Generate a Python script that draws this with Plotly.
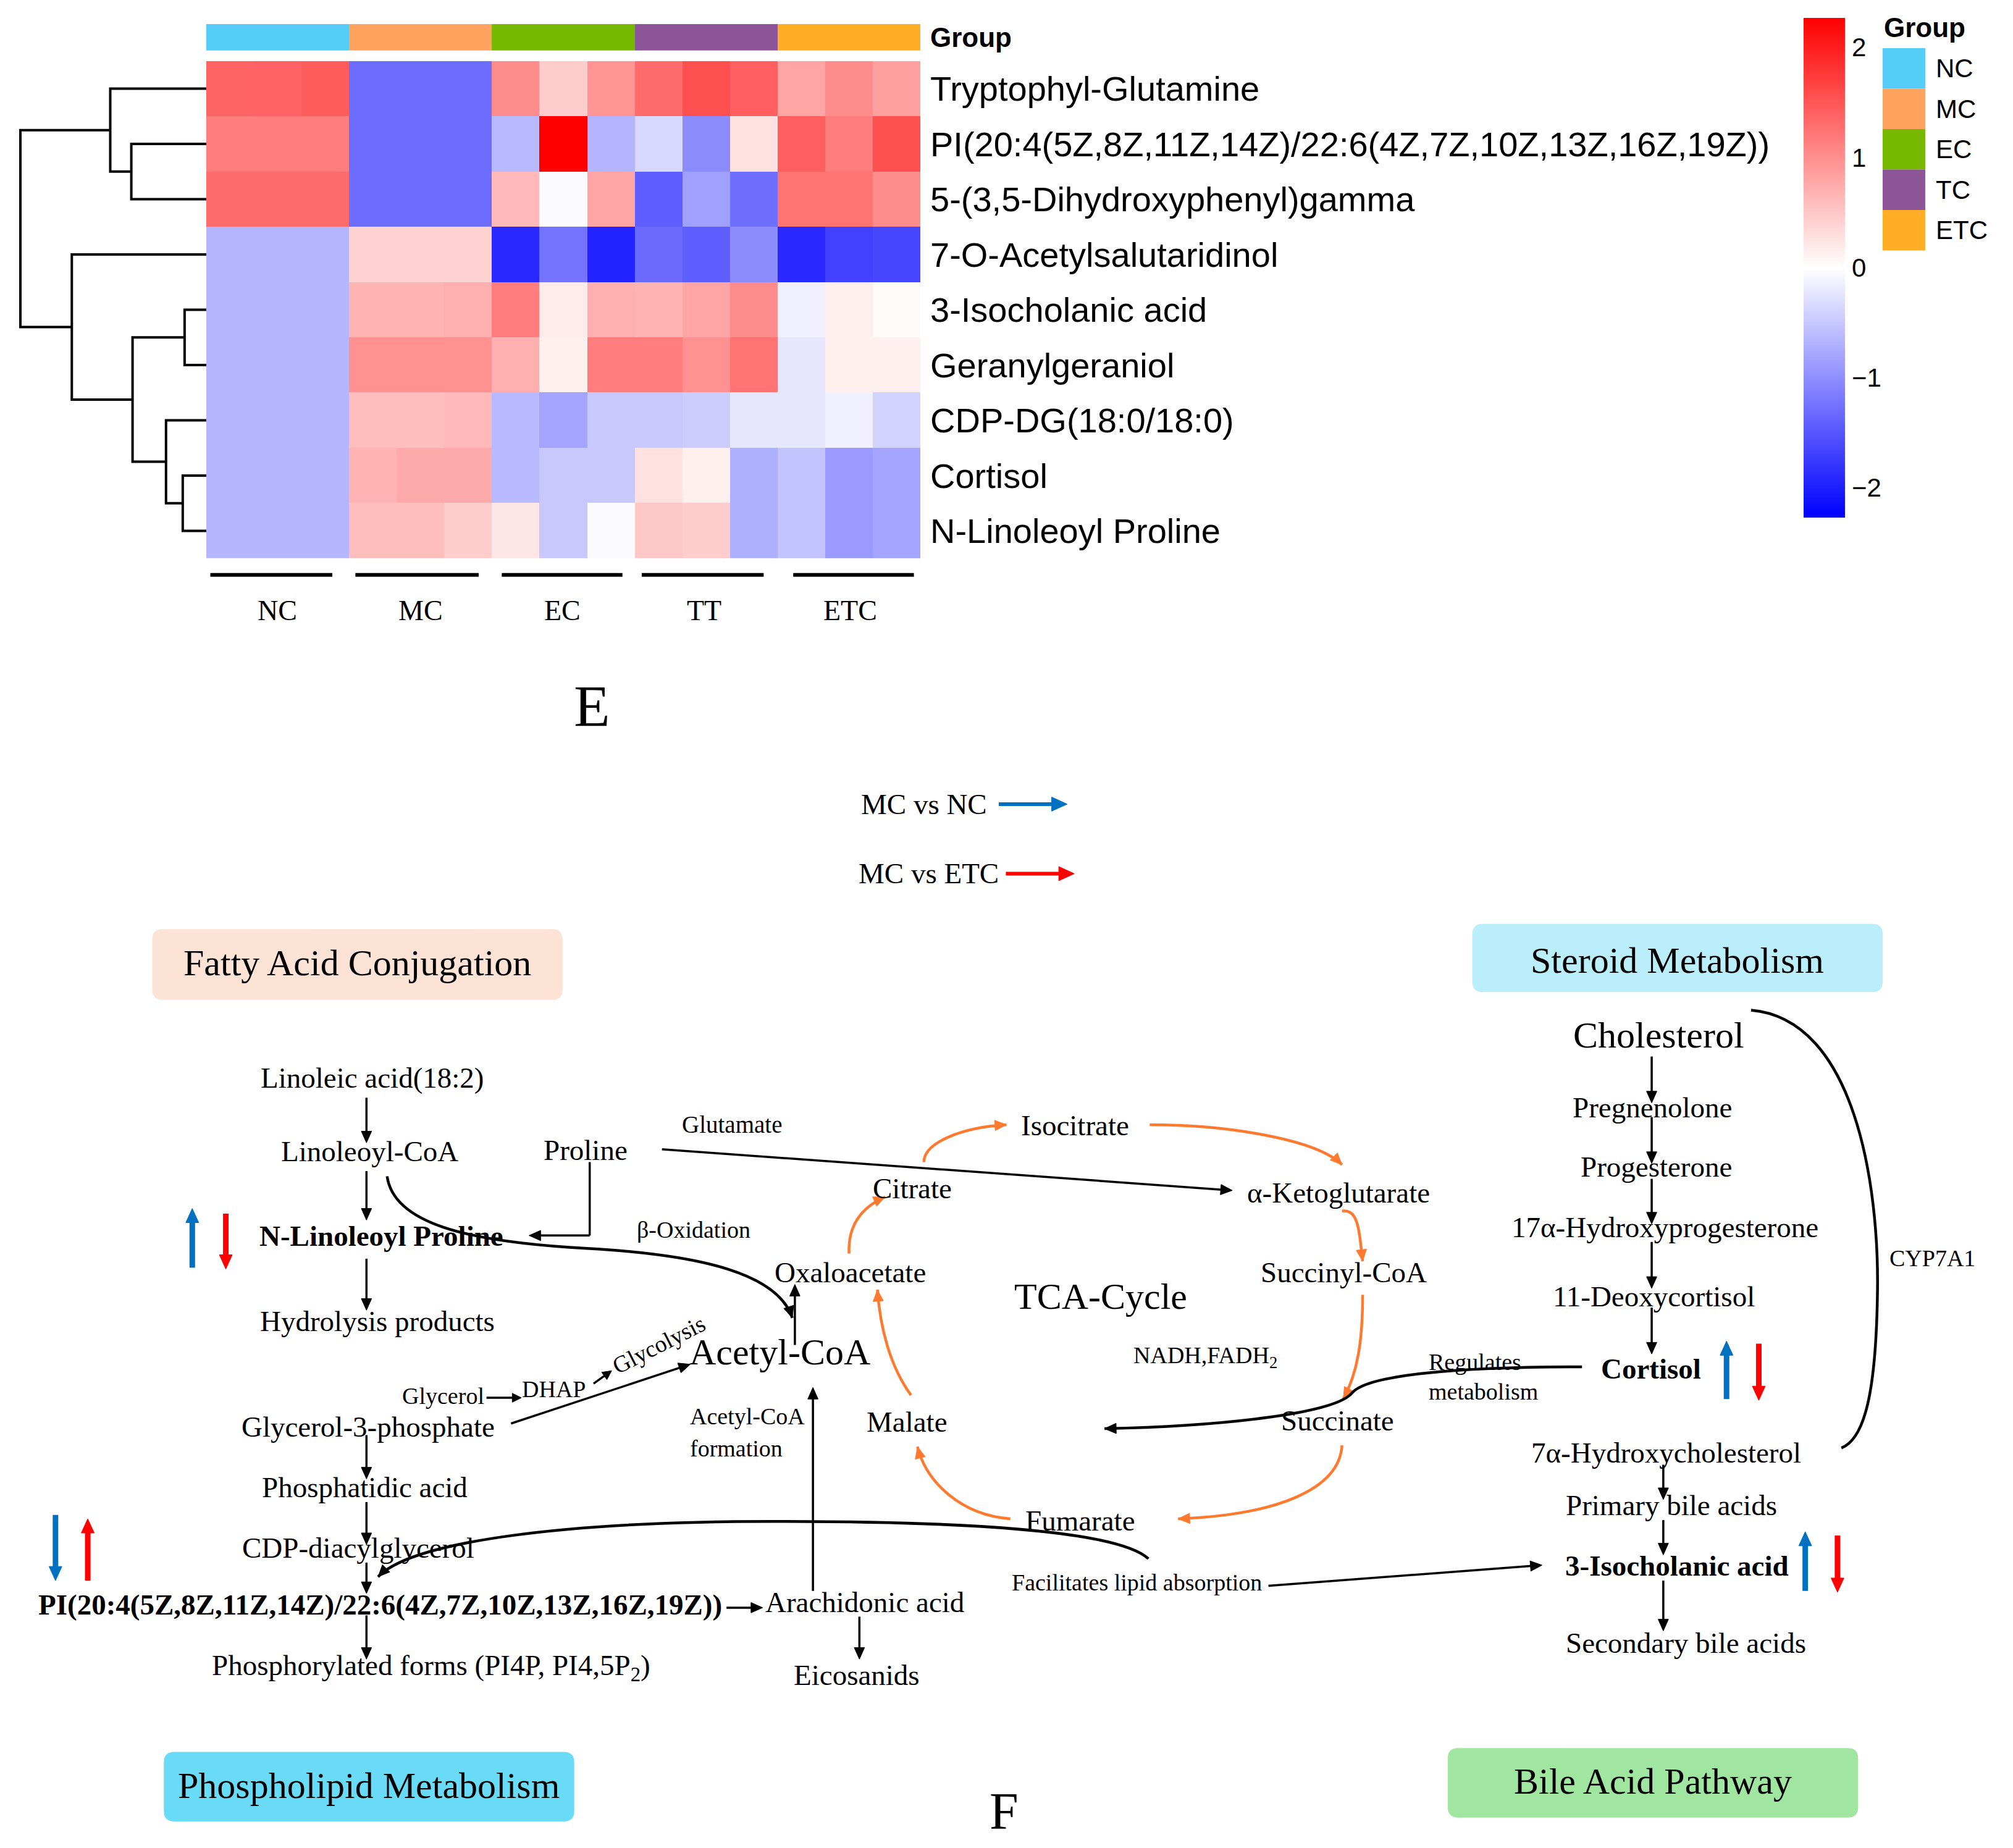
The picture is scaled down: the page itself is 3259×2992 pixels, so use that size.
import plotly.graph_objects as go

# ------------------------------------------------------------------ data
metabolites = [
    "Tryptophyl-Glutamine",
    "PI(20:4(5Z,8Z,11Z,14Z)/22:6(4Z,7Z,10Z,13Z,16Z,19Z))",
    "5-(3,5-Dihydroxyphenyl)gamma",
    "7-O-Acetylsalutaridinol",
    "3-Isocholanic acid",
    "Geranylgeraniol",
    "CDP-DG(18:0/18:0)",
    "Cortisol",
    "N-Linoleoyl Proline",
]
groups = ["NC", "MC", "EC", "TC", "ETC"]
group_colors = ["#56CCF9", "#FFA35F", "#76B900", "#8B5597", "#FFAE25"]
replicates = 3
bottom_labels = ["NC", "MC", "EC", "TT", "ETC"]

# z-scores per metabolite, columns: NC1-3, MC1-3, EC1-3, TC1-3, ETC1-3
tryptophyl_glutamine = [1.38, 1.40, 1.45, -1.31, -1.31, -1.31, 1.02, 0.45, 0.95, 1.33, 1.56, 1.42, 0.80, 1.02, 0.85]
pi_20_4 = [1.16, 1.16, 1.16, -1.31, -1.31, -1.31, -0.62, 2.27, -0.66, -0.36, -1.02, 0.27, 1.42, 1.16, 1.56]
dihydroxyphenyl = [1.33, 1.33, 1.33, -1.31, -1.31, -1.31, 0.62, -0.04, 0.80, -1.42, -0.85, -1.29, 1.25, 1.25, 1.02]
acetylsalutaridinol = [-0.65, -0.65, -0.65, 0.40, 0.40, 0.40, -1.91, -1.25, -1.96, -1.33, -1.42, -1.02, -1.91, -1.69, -1.65]
isocholanic_acid = [-0.65, -0.65, -0.65, 0.67, 0.67, 0.71, 1.16, 0.18, 0.71, 0.67, 0.80, 1.02, -0.13, 0.13, 0.04]
geranylgeraniol = [-0.65, -0.65, -0.65, 0.98, 0.98, 0.98, 0.71, 0.13, 1.16, 1.16, 0.98, 1.25, -0.22, 0.13, 0.13]
cdp_dg = [-0.65, -0.65, -0.65, 0.58, 0.58, 0.62, -0.62, -0.80, -0.49, -0.49, -0.45, -0.22, -0.22, -0.13, -0.40]
cortisol = [-0.65, -0.65, -0.65, 0.67, 0.76, 0.76, -0.62, -0.49, -0.49, 0.27, 0.13, -0.71, -0.53, -0.89, -0.80]
n_linoleoyl_proline = [-0.65, -0.65, -0.65, 0.58, 0.58, 0.45, 0.22, -0.49, -0.04, 0.49, 0.45, -0.71, -0.53, -0.89, -0.80]

z_rows = [tryptophyl_glutamine, pi_20_4, dihydroxyphenyl, acetylsalutaridinol,
          isocholanic_acid, geranylgeraniol, cdp_dg, cortisol, n_linoleoyl_proline]

# row dendrogram: (child a, child b, height); leaves 0..8, merged clusters 9..
linkage = [
    (1, 2, 12.1),
    (0, 9, 15.5),
    (4, 5, 3.5),
    (7, 8, 3.8),
    (6, 12, 6.5),
    (11, 13, 11.9),
    (3, 14, 21.7),
    (10, 15, 30.0),
]
color_range = 2.27
colorbar_ticks = [-2, -1, 0, 1, 2]

# ------------------------------------------------------------------ geometry
W, H = 3259, 2992
S = W / 1560.0          # diagram units -> pixels
DH = H / S

SERIF = "Liberation Serif, Times New Roman, serif"
SANS = "Arial, Liberation Sans, sans-serif"
BLUE = "#0070C0"
RED = "#FF0000"
ORANGE = "#FF7A2F"


def fx(px):
    return px / W


def fy(py):
    return 1 - py / H


fig = go.Figure()

n_cols = len(groups) * replicates
sample_idx = list(range(n_cols))
sample_group = [i // replicates for i in sample_idx]

# main heatmap
fig.add_trace(go.Heatmap(
    z=z_rows, x=sample_idx, y=list(range(len(metabolites))),
    colorscale=[[0, "#0000FF"], [0.5, "#FFFFFF"], [1, "#FF0000"]],
    zmin=-color_range, zmax=color_range,
    xaxis="x", yaxis="y",
    colorbar=dict(
        x=fx(2920), xanchor="left", y=fy(431), yanchor="middle",
        thickness=67, len=809, lenmode="pixels", thicknessmode="pixels",
        outlinewidth=0, xpad=0, ypad=0,
        tickvals=colorbar_ticks, ticks="outside", ticklen=3,
        tickcolor="rgba(0,0,0,0)",
        tickfont=dict(family=SANS, size=42, color="black"),
    ),
    hoverinfo="skip",
))

# group annotation bar
n_g = len(groups)
gscale = []
for i, c in enumerate(group_colors):
    gscale += [[i / n_g, c], [(i + 1) / n_g, c]]
fig.add_trace(go.Heatmap(
    z=[sample_group], x=sample_idx, y=[0],
    colorscale=gscale, zmin=-0.5, zmax=n_g - 0.5, showscale=False,
    xaxis="x2", yaxis="y2", hoverinfo="skip",
))

# dendrogram
pos = {i: float(i) for i in range(len(metabolites))}
hgt = {i: 0.0 for i in range(len(metabolites))}
dx, dy = [], []
for k, (a, b, h) in enumerate(linkage):
    cid = len(metabolites) + k
    dx += [hgt[a], h, h, hgt[b], None]
    dy += [pos[a], pos[a], pos[b], pos[b], None]
    pos[cid] = (pos[a] + pos[b]) / 2
    hgt[cid] = h
fig.add_trace(go.Scatter(x=dx, y=dy, mode="lines", line=dict(color="black", width=4),
                         xaxis="x3", yaxis="y", hoverinfo="skip", showlegend=False))

max_h = max(h for _, _, h in linkage)

fig.update_layout(
    width=W, height=H, margin=dict(l=0, r=0, t=0, b=0),
    paper_bgcolor="white", plot_bgcolor="rgba(0,0,0,0)", showlegend=False,
    xaxis=dict(domain=[fx(334), fx(1490)], range=[-0.5, n_cols - 0.5], visible=False,
               anchor="y", fixedrange=True),
    yaxis=dict(domain=[fy(903), fy(96)], range=[len(metabolites) - 0.5, -0.5],
               tickvals=list(range(len(metabolites))), ticktext=metabolites,
               side="right", ticks="", showgrid=False, zeroline=False, showline=False,
               ticklabelstandoff=15, anchor="x",
               tickfont=dict(family=SANS, size=56, color="black")),
    xaxis2=dict(domain=[fx(334), fx(1490)], range=[-0.5, n_cols - 0.5], visible=False,
                anchor="y2"),
    yaxis2=dict(domain=[fy(79), fy(36)], range=[-0.5, 0.5], tickvals=[0],
                ticktext=["<b>Group</b>"], side="right", ticks="", showgrid=False,
                zeroline=False, ticklabelstandoff=15, anchor="x2",
                tickfont=dict(family=SANS, size=44, color="black")),
    xaxis3=dict(domain=[fx(29), fx(334)], range=[max_h * 1.0133, 0], visible=False,
                anchor="y"),
    xaxis4=dict(domain=[0, 1], range=[0, 1560], visible=False, anchor="y4"),
    yaxis4=dict(domain=[0, 1], range=[DH, 0], visible=False, anchor="x4"),
)

shapes = []
annotations = []


def text(x, y, s, size, bold=False, anchor="center", family=SERIF, angle=0,
         color="black", adj=True):
    if adj:
        x = x - 0.004 * (x - 160)
        y = y - 2.5
    annotations.append(dict(
        x=x, y=y, xref="x4", yref="y4", text=("<b>%s</b>" % s) if bold else s,
        showarrow=False, xanchor=anchor, yanchor="middle", textangle=angle,
        font=dict(family=family, size=size, color=color)))


def seg(x0, y0, x1, y1, color="black", width=3.5):
    shapes.append(dict(type="line", xref="x4", yref="y4", x0=x0, y0=y0, x1=x1, y1=y1,
                       line=dict(color=color, width=width), layer="above"))


def head(tx, ty, ddx, ddy, L, Wd, color):
    n = (ddx * ddx + ddy * ddy) ** 0.5
    ux, uy = ddx / n, ddy / n
    bx, by = tx - ux * L, ty - uy * L
    px_, py_ = -uy, ux
    p1 = (bx + px_ * Wd / 2, by + py_ * Wd / 2)
    p2 = (bx - px_ * Wd / 2, by - py_ * Wd / 2)
    shapes.append(dict(type="path", xref="x4", yref="y4",
                       path=f"M {tx:.2f},{ty:.2f} L {p1[0]:.2f},{p1[1]:.2f} L {p2[0]:.2f},{p2[1]:.2f} Z",
                       fillcolor=color, line=dict(color=color, width=1), layer="above"))


def arrow(x0, y0, x1, y1, color="black", width=3.5, L=9, Wd=8):
    n = ((x1 - x0) ** 2 + (y1 - y0) ** 2) ** 0.5
    ux, uy = (x1 - x0) / n, (y1 - y0) / n
    seg(x0, y0, x1 - ux * L * 0.7, y1 - uy * L * 0.7, color, width)
    head(x1, y1, x1 - x0, y1 - y0, L, Wd, color)


def curve(pts, color="black", width=4.5, tip=True, L=9, Wd=8):
    p = f"M {pts[0][0]},{pts[0][1]}"
    for i in range(1, len(pts), 3):
        p += f" C {pts[i][0]},{pts[i][1]} {pts[i+1][0]},{pts[i+1][1]} {pts[i+2][0]},{pts[i+2][1]}"
    shapes.append(dict(type="path", xref="x4", yref="y4", path=p,
                       line=dict(color=color, width=width), layer="above"))
    if tip:
        (ax_, ay_), (bx_, by_) = pts[-2], pts[-1]
        head(bx_, by_, bx_ - ax_, by_ - ay_, L, Wd, color)


def rbox(x0, y0, x1, y1, color, label, r=8, dy_text=-1):
    p = (f"M {x0+r},{y0} L {x1-r},{y0} Q {x1},{y0} {x1},{y0+r} L {x1},{y1-r} "
         f"Q {x1},{y1} {x1-r},{y1} L {x0+r},{y1} Q {x0},{y1} {x0},{y1-r} "
         f"L {x0},{y0+r} Q {x0},{y0} {x0+r},{y0} Z")
    shapes.append(dict(type="path", xref="x4", yref="y4", path=p, fillcolor=color,
                       line=dict(width=0), layer="below"))
    text((x0 + x1) / 2, (y0 + y1) / 2 + dy_text, label, 60, adj=False)


# ---------------- heatmap extras: group legend, bottom group bars, panel letter
leg_x0, leg_x1, leg_top, leg_step = 1459, 1492, 36, 31.4
text(leg_x0, 20, "<b>Group</b>", 44, anchor="left", family=SANS, adj=False)
for i, (g, c) in enumerate(zip(groups, group_colors)):
    y0 = leg_top + i * leg_step
    shapes.append(dict(type="rect", xref="x4", yref="y4", x0=leg_x0, x1=leg_x1, y0=y0,
                       y1=y0 + leg_step, fillcolor=c, line=dict(width=0), layer="above"))
    text(leg_x1 + 7, y0 + leg_step / 2, g, 42, anchor="left", family=SANS, adj=False)

bar_x = [(163, 258), (276, 372), (390, 484), (499, 594), (617, 711)]
label_x = [215, 326, 436, 545.5, 659]
for (a, b), lx, lab in zip(bar_x, label_x, bottom_labels):
    a2, b2 = a - 0.005 * (a - 160), b - 0.005 * (b - 160)
    seg(a2, 445, b2, 445, "black", 6)
    text(lx, 472.5, lab, 46, adj=False)

text(459, 547, "E", 96, adj=False)
text(778, 1405, "F", 84, adj=False)

# ---------------- legend of comparison arrows
text(716, 623, "MC vs NC", 47, adj=False)
arrow(774, 623, 827, 623, BLUE, 6, 12, 11)
text(719.5, 677, "MC vs ETC", 47, adj=False)
arrow(779.5, 677, 832.5, 677, RED, 6, 12, 11)

# ---------------- category boxes
rbox(118, 720, 436, 775, "#FCE3D6", "Fatty Acid Conjugation")
rbox(1141, 716, 1459, 769, "#BBEEFB", "Steroid Metabolism", dy_text=2)
rbox(127, 1359, 445, 1413, "#6ADBF6", "Phospholipid Metabolism")
rbox(1122, 1356, 1440, 1410, "#A0E6A1", "Bile Acid Pathway")

B, SM, LG = 47, 38, 60

# ---------------- fatty acid / phospholipid side
text(289, 838, "Linoleic acid(18:2)", B)
text(287, 895, "Linoleoyl-CoA", B)
text(296, 961, "N-Linoleoyl Proline", B, bold=True)
text(293, 1027, "Hydrolysis products", B)
text(455, 894, "Proline", B)
text(569, 874, "Glutamate", SM + 1)
text(539, 956, "β-Oxidation", SM)
text(344, 1085, "Glycerol", SM)
text(430, 1080, "DHAP", SM)
text(512, 1045, "Glycolysis", SM, angle=-27)
text(286, 1109, "Glycerol-3-phosphate", B)
text(283, 1156, "Phosphatidic acid", B)
text(278, 1203, "CDP-diacylglycerol", B)
text(295, 1247, "PI(20:4(5Z,8Z,11Z,14Z)/22:6(4Z,7Z,10Z,13Z,16Z,19Z))", B, bold=True)
text(335, 1296, "Phosphorylated forms (PI4P, PI4,5P<sub>2</sub>)", B)
text(672, 1245, "Arachidonic acid", B)
text(666, 1302, "Eicosanids", B)
text(606, 1051, "Acetyl-CoA", LG)
text(535, 1101, "Acetyl-CoA", SM, anchor="left")
text(535, 1126, "formation", SM, anchor="left")

arrow(284, 851, 284, 886)
arrow(284, 908, 284, 946)
arrow(284, 976, 284, 1016)
seg(457, 901, 457, 958)
arrow(457, 958, 410, 958)
arrow(513, 891, 955, 923)
arrow(377, 1084, 404, 1084, L=7, Wd=7)
arrow(460, 1073, 474, 1063, L=7, Wd=7)
arrow(396, 1104, 535, 1058)
arrow(284, 1113, 284, 1147)
arrow(284, 1165, 284, 1198)
arrow(284, 1212, 284, 1236)
arrow(284, 1253, 284, 1287)
arrow(563, 1247, 591, 1247)
arrow(666, 1254, 666, 1287)
arrow(630, 1234, 630, 1076)
arrow(616, 1043, 616, 996)
arrow(983, 1230, 1195, 1214)

curve([(300, 912), (305, 948), (360, 963), (455, 968), (545, 973), (603, 988), (614, 1022)])
curve([(890, 1209), (865, 1186), (740, 1180), (600, 1180), (440, 1180), (320, 1195), (293, 1223)])

# up/down markers
arrow(149, 983, 149, 937, BLUE, 9, 11, 10)
arrow(175, 941, 175, 984, RED, 9, 11, 10)
arrow(43, 1175, 43, 1226, BLUE, 9, 11, 10)
arrow(68, 1226, 68, 1178, RED, 9, 11, 10)

# ---------------- TCA cycle
text(661, 989, "Oxaloacetate", B)
text(709, 924, "Citrate", B)
text(836, 875, "Isocitrate", B)
text(1041, 927, "α-Ketoglutarate", B)
text(1045, 989, "Succinyl-CoA", B)
text(856, 1008, "TCA-Cycle", LG)
text(937, 1055, "NADH,FADH<sub>2</sub>", SM)
text(1040, 1104, "Succinate", B)
text(705, 1105, "Malate", B)
text(840, 1182, "Fumarate", B)
text(884, 1230, "Facilitates lipid absorption", SM)

curve([(658, 972), (657, 950), (668, 936), (686, 928)], ORANGE)
curve([(716, 901), (716, 886), (745, 874), (780, 872)], ORANGE)
curve([(891, 872), (950, 872), (1020, 883), (1040, 903)], ORANGE)
curve([(1040, 939), (1052, 938), (1053, 950), (1056, 978)], ORANGE)
curve([(1056, 1004), (1056, 1040), (1052, 1065), (1041, 1085)], ORANGE)
curve([(1040, 1121), (1038, 1155), (990, 1175), (913, 1178)], ORANGE)
curve([(783, 1178), (745, 1175), (718, 1150), (711, 1122)], ORANGE)
curve([(706, 1082), (690, 1060), (682, 1030), (680, 1000)], ORANGE)

# ---------------- steroid / bile acid side
text(1290, 805, "Cholesterol", LG)
text(1285, 861, "Pregnenolone", B)
text(1288, 907, "Progesterone", B)
text(1295, 954, "17α-Hydroxyprogesterone", B)
text(1286, 1008, "11-Deoxycortisol", B)
text(1284, 1064, "Cortisol", B, bold=True)
text(1106, 1056, "Regulates", SM, anchor="left", adj=False)
text(1106, 1079, "metabolism", SM, anchor="left", adj=False)
text(1503, 978, "CYP7A1", SM)
text(1296, 1129, "7α-Hydroxycholesterol", B)
text(1300, 1170, "Primary bile acids", B)
text(1304, 1217, "3-Isocholanic acid", B, bold=True)
text(1311, 1277, "Secondary bile acids", B)

for y0, y1 in [(819, 855), (866, 902), (914, 949), (963, 999), (1014, 1050)]:
    arrow(1280, y0, 1280, y1)
for y0, y1 in [(1136, 1163), (1179, 1206), (1226, 1265)]:
    arrow(1289, y0, 1289, y1)

curve([(1226, 1060), (1130, 1060), (1060, 1066), (1048, 1080),
       (1036, 1096), (950, 1106), (856, 1108)])
curve([(1357, 783), (1438, 790), (1456, 920), (1455, 1000),
       (1454, 1080), (1445, 1116), (1427, 1123)], tip=False)

arrow(1338, 1085, 1338, 1040, BLUE, 9, 11, 10)
arrow(1363, 1042, 1363, 1086, RED, 9, 11, 10)
arrow(1399, 1234, 1399, 1188, BLUE, 9, 11, 10)
arrow(1424, 1191, 1424, 1235, RED, 9, 11, 10)

fig.update_layout(shapes=shapes, annotations=annotations)
fig.write_html("out.html", config={"displayModeBar": False},
               post_script="document.body.style.margin='0px';")
